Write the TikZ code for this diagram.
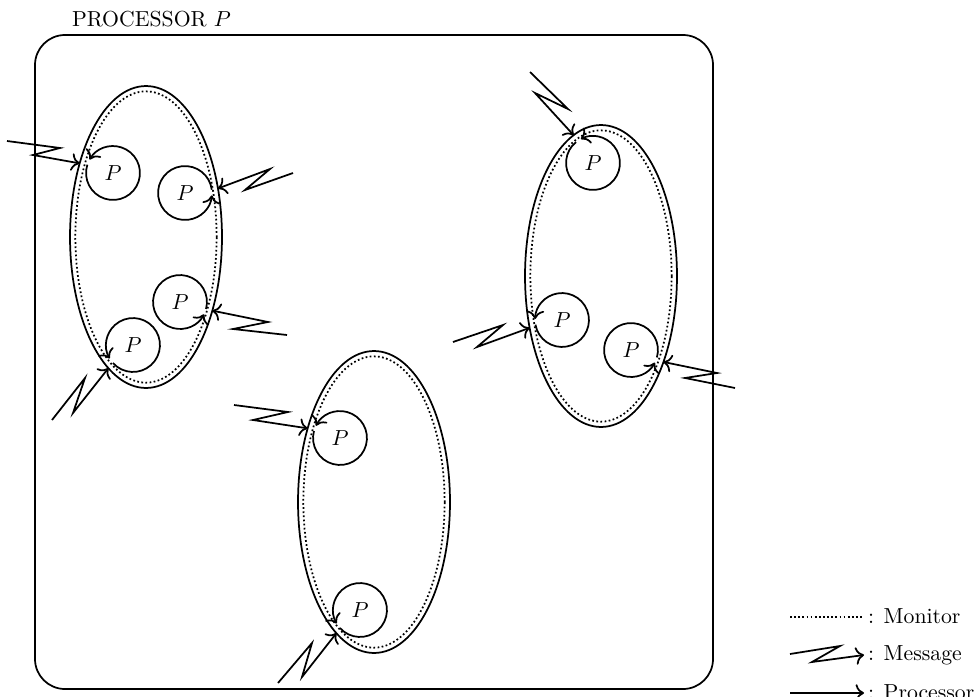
\documentclass[tikz,border=0pt]{standalone}
\usetikzlibrary{shapes.geometric,arrows.meta}
\tikzset{
  frame/.style={draw, line width=0.8pt, rounded corners=13.8pt},
  monbox/.style={ellipse, draw, line width=0.8pt, minimum width=69.9pt, minimum height=138.9pt, inner sep=0pt, outer sep=0pt},
  monitorline/.style={line width=0.8pt, dash pattern=on 0.8pt off 1.1pt},
  proc/.style={circle, minimum size=24.8pt, inner sep=0pt, outer sep=0pt},
  procarrow/.style={line width=0.8pt, -{To[scale=1.15]}},
  msg/.style={line width=0.8pt, -{To[scale=1.15]}},
  lbl/.style={anchor=base west, inner sep=0pt, outer sep=0pt},
}
\begin{document}
\begin{tikzpicture}[x=0.46pt,y=0.46pt]
\useasboundingbox (0,0) rectangle (976,-696);

% title and processor box
\node[lbl] (title) at (72,-26) {PROCESSOR $P$};
\draw[frame] (35,-35) rectangle (713,-689);

% monitors
\node[monbox] (e1) at (146,-237) {};
\node[monbox] (e2) at (601,-276) {};
\node[monbox] (e3) at (374,-502) {};
\foreach \e in {e1,e2,e3}
  \draw[monitorline] (\e.center) ellipse [x radius=32.5pt, y radius=67pt];

% processes
\node[proc] (c1) at (113,-173) {$P$};
\node[proc] (c2) at (185,-193) {$P$};
\node[proc] (c3) at (180,-302) {$P$};
\node[proc] (c4) at (133,-345) {$P$};
\node[proc] (c5) at (593,-163) {$P$};
\node[proc] (c6) at (562,-320) {$P$};
\node[proc] (c7) at (631,-350) {$P$};
\node[proc] (c8) at (340,-438) {$P$};
\node[proc] (c9) at (360,-610) {$P$};
\foreach \n/\t in {c1/150,c2/355,c3/333,c4/210,c5/117,c6/178,c7/332,c8/153,c9/210}{
  \pgfmathsetmacro\s{\t+12}
  \draw[procarrow] (\n.center) ++(\s:12.4pt) arc[start angle=\s, delta angle=348, radius=12.4pt];
}

% messages
\coordinate (m1) at (7,-141);
\coordinate (m2) at (293,-173);
\coordinate (m3) at (287,-335);
\coordinate (m4) at (52,-420);
\coordinate (m5) at (530,-72);
\coordinate (m6) at (453,-342);
\coordinate (m7) at (735,-388);
\coordinate (m8) at (234,-405);
\coordinate (m9) at (278,-683);
\draw[msg] (m1) -- (60,-148) -- (33,-155) -- (e1.132);
\draw[msg] (m2) -- (245,-190) -- (270,-169) -- (e1.34);
\draw[msg] (m3) -- (233,-329) -- (268,-322) -- (e1.312);
\draw[msg] (m4) -- (85,-378) -- (73,-413) -- (e1.254);
\draw[msg] (m5) -- (568,-109) -- (535,-93) -- (e2.101);
\draw[msg] (m6) -- (503,-325) -- (477,-347) -- (e2.216);
\draw[msg] (m7) -- (685,-378) -- (717,-373) -- (e2.306);
\draw[msg] (m8) -- (288,-412) -- (253,-420) -- (e3.132);
\draw[msg] (m9) -- (312,-643) -- (302,-677) -- (e3.254);

% legend
\coordinate (lm1) at (790,-617);
\coordinate (lm2) at (863,-617);
\draw[monitorline] (lm1) -- (lm2);
\node[lbl] (lmt) at (868,-623) {: Monitor};
\coordinate (lg1) at (790,-654);
\coordinate (lg2) at (864,-655);
\draw[msg] (lg1) -- (840,-646) -- (812,-662) -- (lg2);
\node[lbl] (lgt) at (868,-660) {: Message};
\coordinate (lp1) at (790,-693);
\coordinate (lp2) at (864,-693);
\draw[procarrow] (lp1) -- (lp2);
\node[lbl] (lpt) at (868,-699) {: Processor};
\end{tikzpicture}
\end{document}
